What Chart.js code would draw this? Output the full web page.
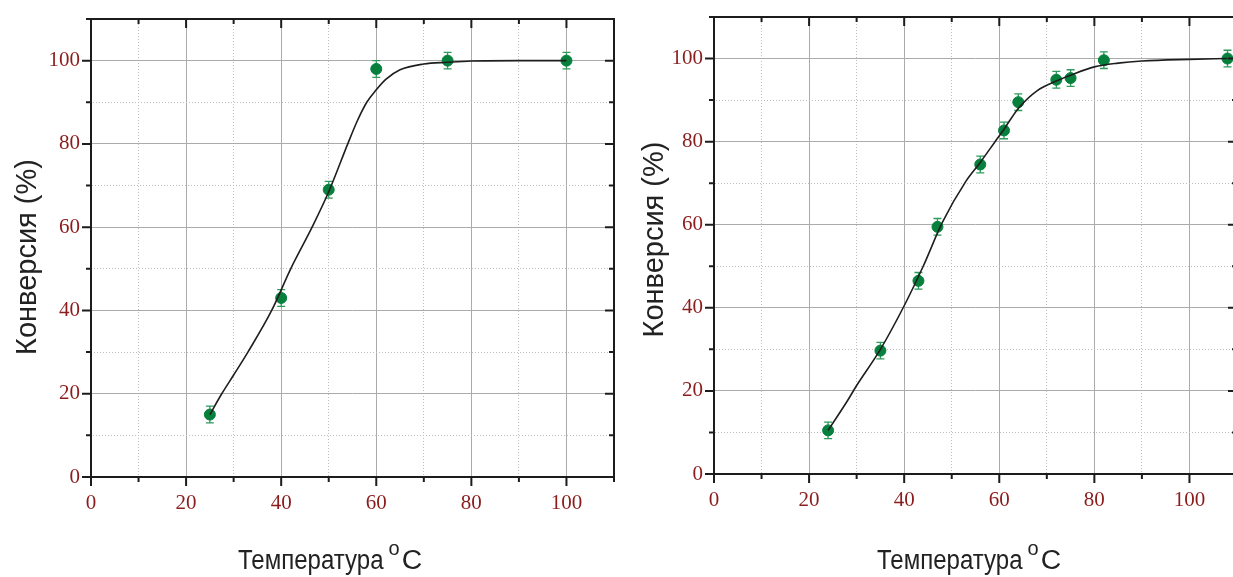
<!DOCTYPE html>
<html>
<head>
<meta charset="utf-8">
<script src="https://cdn.jsdelivr.net/npm/chart.js@4.4.1/dist/chart.umd.min.js"></script>
<style>
  html, body { margin: 0; padding: 0; background: #fff; overflow: hidden; width: 1233px; height: 577px; }
  .box { position: absolute; top: 0; height: 577px; }
  #boxA { left: 0; width: 622px; }
  #boxB { left: 622px; width: 616px; }
</style>
</head>
<body>
<div class="box" id="boxA"><canvas id="left"></canvas></div>
<div class="box" id="boxB"><canvas id="right"></canvas></div>
<script>
// left panel: measured points
const leftTemp = [25, 40, 50, 60, 75, 100];
const leftConv = [15, 43, 69, 98, 100, 100];
const leftErr  = [2, 2, 2, 2, 2, 2];
// left panel: fitted curve
const leftFitTemp = [25, 27.5, 30, 33, 38, 42, 46.5, 50, 54, 56, 58, 60, 62, 65, 70, 75, 80, 90, 100];
const leftFitConv = [15, 20, 24.5, 30, 40, 50, 60, 68.5, 80, 85.5, 90, 93, 95.5, 97.8, 99.2, 99.6, 99.9, 100, 100];

// right panel: measured points
const rightTemp = [24, 35, 43, 47, 56, 61, 64, 72, 75, 82, 108];
const rightConv = [10.5, 29.7, 46.5, 59.5, 74.5, 82.7, 89.5, 94.9, 95.3, 99.6, 100];
const rightErr  = [2, 2, 2, 2, 2, 2, 2, 2, 2, 2, 2];
// right panel: fitted curve
const rightFitTemp = [24, 28, 30, 35, 40, 44, 48, 53, 56, 59, 61, 64, 68, 72, 75, 80, 85, 90, 100, 108];
const rightFitConv = [10.5, 17.5, 21.3, 30, 40.5, 50, 60.5, 70.5, 75, 79.8, 83, 88, 92.3, 94.6, 96, 98, 98.9, 99.4, 99.8, 100];

const axisMax = 110;
const majorStep = 20;
const minorStep = 10;
const yTitle = 'Конверсия (%)';
const xTitle = 'Температура';
const xUnitSup = 'o';
const xUnit = 'C';

// dotted pattern for the minor grid
const dot = document.createElement('canvas');
dot.width = 3; dot.height = 3;
const dctx = dot.getContext('2d');
dctx.fillStyle = '#bdbdbd';
for (let i = 0; i < 3; i++) dctx.fillRect(i, i, 1, 1);
const dotted = dctx.createPattern(dot, 'repeat');

const gridColor = c => (c.tick && c.tick.value % majorStep === 0) ? '#ababab' : dotted;

// error bars drawn under the markers
const errorBars = {
  id: 'errorBars',
  beforeDatasetsDraw(chart) {
    const ctx = chart.ctx, x = chart.scales.x, y = chart.scales.y;
    chart.data.datasets.forEach(ds => {
      if (!ds.errors) return;
      ctx.save();
      ctx.strokeStyle = '#2f9a5c';
      ctx.lineWidth = 1.3;
      ds.data.forEach((p, i) => {
        const px = x.getPixelForValue(p.x);
        const top = y.getPixelForValue(p.y + ds.errors[i]);
        const bot = y.getPixelForValue(p.y - ds.errors[i]);
        ctx.beginPath();
        ctx.moveTo(px, top); ctx.lineTo(px, bot);
        ctx.moveTo(px - 4, top); ctx.lineTo(px + 4, top);
        ctx.moveTo(px - 4, bot); ctx.lineTo(px + 4, bot);
        ctx.stroke();
      });
      ctx.restore();
    });
  }
};

// box frame with ticks: outward on left/bottom, inward on top/right
const frame = {
  id: 'frame',
  afterDatasetsDraw(chart) {
    const ctx = chart.ctx, a = chart.chartArea, x = chart.scales.x, y = chart.scales.y;
    ctx.save();
    ctx.strokeStyle = '#1c1c1c';
    ctx.lineWidth = 2;
    ctx.strokeRect(a.left, a.top, a.right - a.left, a.bottom - a.top);
    ctx.beginPath();
    x.ticks.forEach(t => {
      const len = t.value % majorStep === 0 ? 9 : 5;
      const px = x.getPixelForValue(t.value);
      ctx.moveTo(px, a.bottom); ctx.lineTo(px, a.bottom + len);
      ctx.moveTo(px, a.top); ctx.lineTo(px, a.top + len);
    });
    y.ticks.forEach(t => {
      const len = t.value % majorStep === 0 ? 9 : 5;
      const py = y.getPixelForValue(t.value);
      ctx.moveTo(a.left - len, py); ctx.lineTo(a.left, py);
      ctx.moveTo(a.right - len, py); ctx.lineTo(a.right, py);
    });
    ctx.stroke();
    ctx.restore();
  }
};

// axis titles (x title is narrow, with a raised "o")
const titles = {
  id: 'titles',
  afterDraw(chart, args, o) {
    const ctx = chart.ctx, a = chart.chartArea;
    ctx.save();
    ctx.fillStyle = '#222';
    ctx.font = '29px "Liberation Sans", Arial, sans-serif';
    ctx.translate(a.left + o.yDx, (a.top + a.bottom) / 2 + o.yDy);
    ctx.rotate(-Math.PI / 2);
    ctx.textAlign = 'center';
    ctx.textBaseline = 'middle';
    ctx.fillText(yTitle, 0, 0);
    ctx.restore();

    ctx.save();
    ctx.fillStyle = '#222';
    ctx.textBaseline = 'alphabetic';
    ctx.textAlign = 'left';
    let cx = a.left + o.xDx;
    const base = o.base;
    ctx.font = '27px "Liberation Sans", Arial, sans-serif';
    const w1 = ctx.measureText(xTitle).width * 0.89;
    ctx.save(); ctx.translate(cx, base); ctx.scale(0.89, 1); ctx.fillText(xTitle, 0, 0); ctx.restore();
    cx += w1 + 5;
    ctx.font = '20px "Liberation Sans", Arial, sans-serif';
    ctx.fillText(xUnitSup, cx, base - 14);
    cx += ctx.measureText(xUnitSup).width + 2;
    ctx.font = '27px "Liberation Sans", Arial, sans-serif';
    ctx.save(); ctx.translate(cx, base); ctx.scale(1.05, 1); ctx.fillText(xUnit, 0, 0); ctx.restore();
    ctx.restore();
  }
};

const tickFont = { family: '"Liberation Serif", "Times New Roman", serif', size: 21 };
const tickColor = '#8b1d1d';

function makeChart(id, temp, conv, err, fitTemp, fitConv, cfg) {
  new Chart(document.getElementById(id), {
    type: 'scatter',
    data: {
      datasets: [
        {
          type: 'line',
          data: fitTemp.map((t, i) => ({ x: t, y: fitConv[i] })),
          borderColor: '#1e1e1e',
          borderWidth: 1.6,
          pointRadius: 0,
          cubicInterpolationMode: 'monotone',
          fill: false,
          order: 0
        },
        {
          data: temp.map((t, i) => ({ x: t, y: conv[i] })),
          backgroundColor: '#07803d',
          borderColor: '#07803d',
          pointRadius: 5.5,
          pointHoverRadius: 5.5,
          errors: err,
          order: 1
        }
      ]
    },
    options: {
      responsive: true,
      maintainAspectRatio: false,
      animation: false,
      layout: { autoPadding: false, padding: { top: cfg.top, right: cfg.right, left: 0, bottom: 0 } },
      plugins: {
        legend: { display: false },
        tooltip: { enabled: false },
        titles: cfg.titles
      },
      scales: {
        x: {
          type: 'linear', min: 0, max: axisMax,
          border: { display: false },
          grid: { drawTicks: false, color: gridColor, lineWidth: 1 },
          ticks: {
            stepSize: minorStep, includeBounds: false, autoSkip: false, maxRotation: 0,
            padding: 14, color: tickColor, font: tickFont,
            callback: v => v % majorStep === 0 ? v : ''
          },
          afterFit: s => { s.height = cfg.xHeight; s.paddingLeft = 0; s.paddingRight = 0; }
        },
        y: {
          type: 'linear', min: 0, max: axisMax,
          border: { display: false },
          grid: { drawTicks: false, color: gridColor, lineWidth: 1 },
          ticks: {
            stepSize: minorStep, includeBounds: false, autoSkip: false,
            padding: 11, color: tickColor, font: tickFont,
            callback: v => v % majorStep === 0 ? v : ''
          },
          afterFit: s => { s.width = cfg.yWidth; s.paddingTop = 0; s.paddingBottom = 0; }
        }
      }
    },
    plugins: [errorBars, frame, titles]
  });
}

makeChart('left', leftTemp, leftConv, leftErr, leftFitTemp, leftFitConv, {
  top: 19, right: 8, xHeight: 100, yWidth: 91,
  titles: { yDx: -63, yDy: 9, xDx: 147, base: 569 }
});

// the right panel runs a little past the page edge, as in the original crop
makeChart('right', rightTemp, rightConv, rightErr, rightFitTemp, rightFitConv, {
  top: 17, right: 1, xHeight: 103, yWidth: 92,
  titles: { yDx: -59, yDy: -6, xDx: 163, base: 569 }
});
</script>
</body>
</html>
